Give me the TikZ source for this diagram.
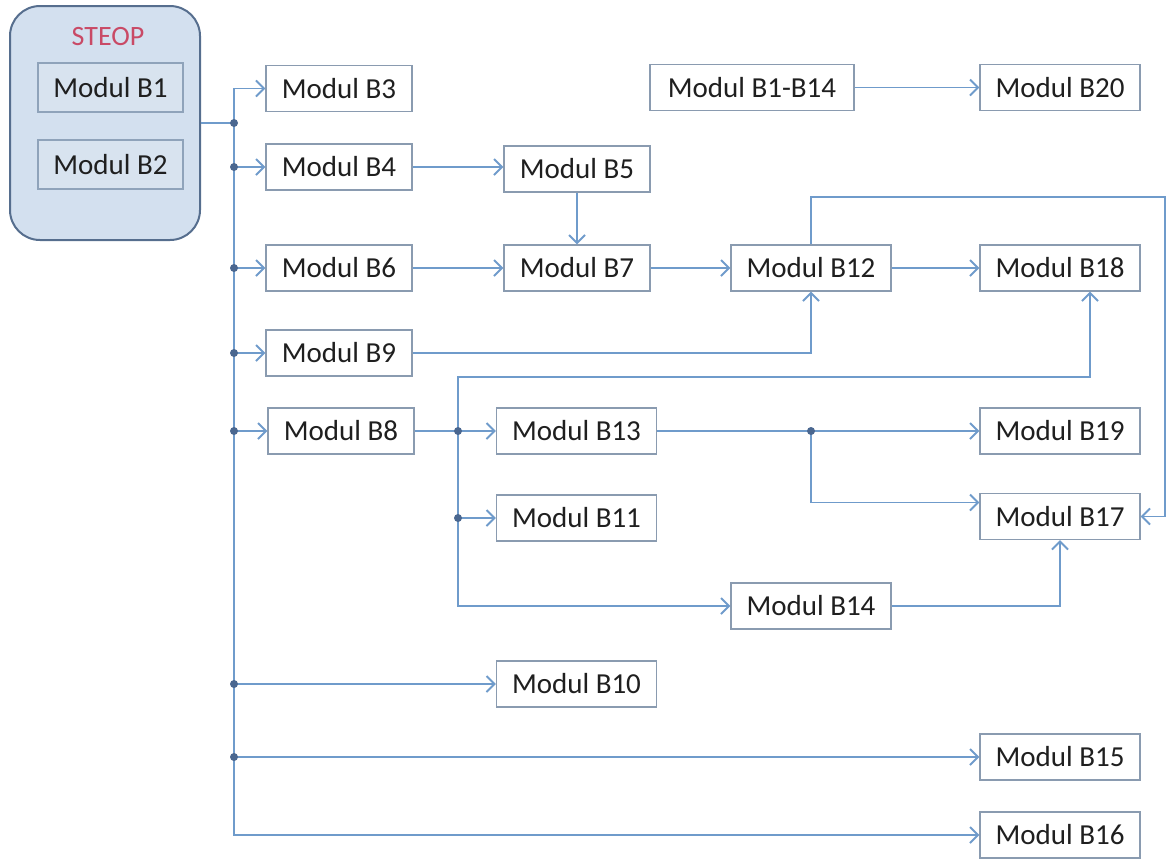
\documentclass[tikz,border=0pt]{standalone}
\usepackage{fontspec}
\setmainfont{Carlito}
\usetikzlibrary{arrows.meta}
\definecolor{linec}{HTML}{6F9BCB}
\definecolor{boxc}{HTML}{8A9BB0}
\definecolor{dotc}{HTML}{4A6790}
\definecolor{steopfill}{HTML}{D3E0EF}
\definecolor{steopdraw}{HTML}{566E8E}
\definecolor{steopred}{HTML}{C94A66}
\definecolor{innerfill}{HTML}{D8E3EF}
\definecolor{innerdraw}{HTML}{8FA3BA}
\begin{document}
\begin{tikzpicture}[x=0.5pt,y=-0.5pt,
 box/.style={draw=boxc, line width=0.6pt, fill=white, minimum width=73pt, minimum height=23pt, inner sep=0pt, font=\fontsize{14.5}{16}\selectfont, text=black!88},
 wide/.style={box, minimum width=80pt},
 innerbox/.style={box, draw=innerdraw, fill=innerfill, minimum width=72.5pt, minimum height=24.5pt},
 conn/.style={draw=linec, line width=0.9pt},
 arr/.style={conn, -{Straight Barb[length=4pt,width=8pt,line width=1pt]}},
 jdot/.style={circle, fill=dotc, inner sep=0pt, minimum size=4pt},
]
\useasboundingbox (0,0) rectangle (1170,858);

% STEOP group
\node[draw=steopdraw, fill=steopfill, line width=1pt, rounded corners=15pt, minimum width=95pt, minimum height=117pt] (steop) at (105,123) {};
\node[text=steopred, font=\fontsize{14}{16}\selectfont] (steoplbl) at (108,37) {STEOP};
\node[innerbox] (b1) at (110.5,87.5) {Modul B1};
\node[innerbox] (b2) at (110.5,164.5) {Modul B2};

% boxes
\node[box] (b3) at (339,88.5) {Modul B3};
\node[box] (b4) at (339,167) {Modul B4};
\node[box] (b6) at (339,268) {Modul B6};
\node[box] (b9) at (339,353) {Modul B9};
\node[box] (b8) at (341,431) {Modul B8};
\node[box] (b5) at (577,169) {Modul B5};
\node[box] (b7) at (577,268) {Modul B7};
\node[wide] (b12) at (811,268) {Modul B12};
\node[wide] (b18) at (1060,268) {Modul B18};
\node[wide] (b13) at (576.5,431) {Modul B13};
\node[wide] (b11) at (576.5,518) {Modul B11};
\node[wide] (b19) at (1060,431) {Modul B19};
\node[wide] (b17) at (1060,516.5) {Modul B17};
\node[wide] (b14) at (811,606) {Modul B14};
\node[wide] (b10) at (576.5,684) {Modul B10};
\node[wide] (b15) at (1060,757) {Modul B15};
\node[wide] (b16) at (1060,835) {Modul B16};
\node[box, minimum width=102pt] (b114) at (752,87.5) {Modul B1-B14};
\node[wide] (b20) at (1060,87.5) {Modul B20};

% junction coordinates
\coordinate (bj) at (234,123);
\coordinate (j4) at (bj |- b4.west);
\coordinate (j6) at (bj |- b6.west);
\coordinate (j9) at (bj |- b9.west);
\coordinate (j8) at (bj |- b8.west);
\coordinate (j10) at (bj |- b10.west);
\coordinate (j15) at (bj |- b15.west);
\coordinate (k8) at (458,431);
\coordinate (k11) at (k8 |- b11.west);
\coordinate (vt) at (458,377);
\coordinate (k13) at (b12.south |- b13.east);
\coordinate (rc) at (1165,197);

% bus
\draw[conn] (steop.east |- bj) -- (bj);
\draw[arr] (bj) |- (b3.west);
\draw[arr] (bj) |- (b16.west);
\draw[arr] (j4) -- (b4.west);
\draw[arr] (j6) -- (b6.west);
\draw[arr] (j9) -- (b9.west);
\draw[arr] (j8) -- (b8.west);
\draw[arr] (j10) -- (b10.west);
\draw[arr] (j15) -- (b15.west);

% chains
\draw[arr] (b4.east) -- (b4.east -| b5.west);
\draw[arr] (b5.south) -- (b7.north);
\draw[arr] (b6.east) -- (b7.west);
\draw[arr] (b7.east) -- (b12.west);
\draw[arr] (b12.east) -- (b18.west);
\draw[arr] (b9.east) -| (b12.south);
\draw[arr] (b12.north) |- (rc) |- (b17.east);

\draw[conn] (b8.east) -- (k8);
\draw[arr] (k8) -- (b13.west);
\draw[arr] (k8) -- (vt) -| ([xshift=15pt]b18.south);
\draw[arr] (k8) |- (b14.west);
\draw[arr] (k11) -- (b11.west);
\draw[arr] (b13.east) -- (b19.west);
\draw[arr] (k13) |- ([yshift=7pt]b17.west);
\draw[arr] (b14.east) -| (b17.south);
\draw[arr] (b114.east) -- (b20.west);

% dots
\foreach \p in {bj,j4,j6,j9,j8,j10,j15,k8,k11,k13}
  \node[jdot] at (\p) {};
\end{tikzpicture}
\end{document}
